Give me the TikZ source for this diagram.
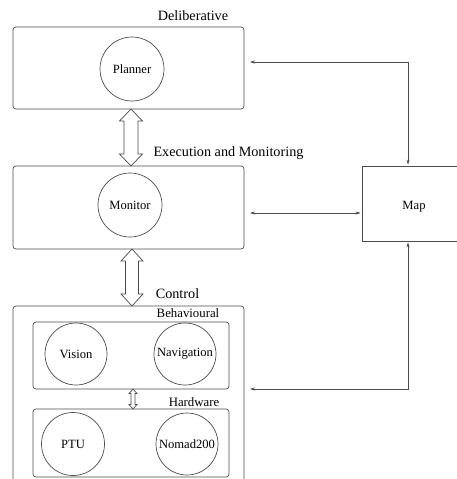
\documentclass[tikz,border=0pt]{standalone}
\usepackage{fontspec}
\setmainfont{Liberation Serif}
\usetikzlibrary{calc,arrows.meta}

\tikzset{
  line/.style={draw=black!70, line width=0.7pt},
  layer/.style={line, rounded corners=3pt, inner sep=0pt, outer sep=0pt},
  module/.style={line, circle, inner sep=0pt, outer sep=0pt, font=\fontsize{12.6}{14}\selectfont},
  title/.style={inner sep=0pt, font=\fontsize{14.2}{16}\selectfont},
  subtitle/.style={inner sep=0pt, font=\fontsize{12.8}{14}\selectfont},
  link/.style={line, line width=0.6pt, {Stealth[length=5pt,width=3pt]}-{Stealth[length=5pt,width=3pt]}},
  fat/.style={line, fill=white, line join=miter},
}

% hollow vertical double arrow between two anchors
% #1 upper anchor, #2 lower anchor, #3 x position, #4 half shaft, #5 half head, #6 head length
\newcommand\fatarrow[6]{%
  \draw[fat] let \p1=(#1), \p2=(#2), \p3=(#3,0) in
    (\x3,\y1) -- (\x3+#5,\y1-#6) -- (\x3+#4,\y1-#6) -- (\x3+#4,\y2+#6)
    -- (\x3+#5,\y2+#6) -- (\x3,\y2) -- (\x3-#5,\y2+#6) -- (\x3-#4,\y2+#6)
    -- (\x3-#4,\y1-#6) -- (\x3-#5,\y1-#6) -- cycle;}

\begin{document}
\begin{tikzpicture}[x=1pt,y=-1pt]
  \useasboundingbox (0,0) rectangle (457,479);
  \clip (0,0) rectangle (457,479);

  % deliberative layer
  \node[title] (tdelib) at (193,16) {Deliberative};
  \node[layer, minimum width=231pt, minimum height=82pt] (delib) at (128.5,68) {};
  \node[module, minimum size=64pt] (planner) at (132,69) {Planner};

  % execution and monitoring layer
  \node[title] (texec) at (228.5,153) {Execution and Monitoring};
  \node[layer, minimum width=231pt, minimum height=83pt] (monitorlayer) at (128.5,207.5) {};
  \node[module, minimum size=64pt] (monitor) at (130,205) {Monitor};

  % control layer
  \node[title] (tcontrol) at (177.5,294) {Control};
  \node[layer, minimum width=231pt, minimum height=190pt] (control) at (128.5,401) {};
  \node[subtitle] (tbehav) at (188,313) {Behavioural};
  \node[layer, minimum width=196pt, minimum height=67pt] (behav) at (131,355.5) {};
  \node[module, minimum size=62pt] (vision) at (76,354) {Vision};
  \node[module, minimum size=62pt] (nav) at (185,354) {Navigation};
  \node[subtitle] (thw) at (194,402) {Hardware};
  \node[layer, minimum width=196pt, minimum height=68pt] (hw) at (131,443) {};
  \node[module, minimum size=63pt] (ptu) at (73,444) {PTU};
  \node[module, minimum size=62pt] (nomad) at (187,444) {Nomad200};

  % map
  \node[line, inner sep=0pt, minimum width=104pt, minimum height=75pt] (mapbox) at (414,203.5) {};
  \node[inner sep=0pt, font=\fontsize{12.6}{14}\selectfont] (map) at (414,207) {Map};

  % links between layers
  \fatarrow{delib.south}{monitorlayer.north}{131}{7pt}{11.5pt}{12pt}
  \fatarrow{monitorlayer.south}{control.north}{132}{6.5pt}{11pt}{12pt}
  \fatarrow{behav.south}{hw.north}{133}{2pt}{4pt}{4.5pt}

  % links to the map
  \coordinate (c1) at (408,62);
  \coordinate (c2) at (300,213);
  \coordinate (c3) at (408,389);
  \draw[link, shorten <=6pt, shorten >=1pt] (delib.east |- c1) -- (c1) -- (c1 |- mapbox.north);
  \draw[link, shorten <=6pt, shorten >=1pt] (monitorlayer.east |- c2) -- (mapbox.west |- c2);
  \draw[link, shorten <=6pt, shorten >=1pt] (control.east |- c3) -- (c3) -- (c3 |- mapbox.south);
\end{tikzpicture}
\end{document}
